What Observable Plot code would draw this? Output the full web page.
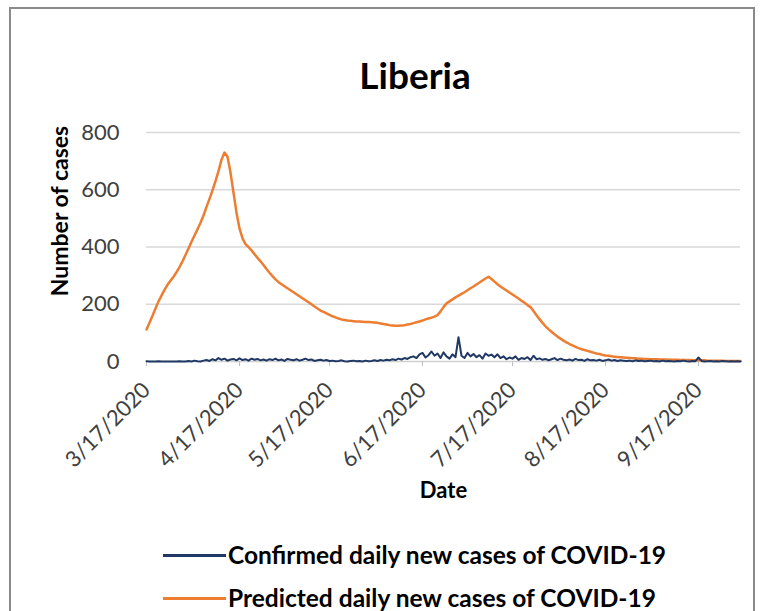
<!DOCTYPE html>
<html>
<head>
<meta charset="utf-8">
<script src="https://cdn.jsdelivr.net/npm/d3@7"></script>
<script src="https://cdn.jsdelivr.net/npm/@observablehq/plot@0.6"></script>
<style>
  html, body { margin: 0; padding: 0; background: #fff; }
  body { width: 768px; height: 611px; position: relative; overflow: hidden; font-family: Lato, "Open Sans", sans-serif; }
  #frame { position: absolute; left: 9px; top: 7px; width: 746px; height: 640px; border: 2px solid #8a8a8a; box-sizing: border-box; }
  #title { position: absolute; top: 56px; left: 0; width: 830px; text-align: center; font-weight: bold; font-size: 37px; line-height: 37px; color: #000; }
  #chart { position: absolute; left: 0; top: 100px; }
  .leg { position: absolute; left: 163px; height: 26px; font-weight: bold; font-size: 24.5px; line-height: 26px; color: #000; display: flex; align-items: center; white-space: nowrap; }
  .leg .sw { display: inline-block; width: 63px; height: 3px; margin-right: 2px; }
</style>
</head>
<body>
<div id="frame"></div>
<div id="title">Liberia</div>
<div id="chart"></div>
<div class="leg" style="top:542px"><span class="sw" style="background:#203864"></span>Confirmed daily new cases of COVID-19</div>
<div class="leg" style="top:585px"><span class="sw" style="background:#ed7d31"></span>Predicted daily new cases of COVID-19</div>
<script>
// Day 0 = 3/17/2020, last day = 10/1/2020
const startDate = "2020-03-17";
const tickLabels = ["3/17/2020","4/17/2020","5/17/2020","6/17/2020","7/17/2020","8/17/2020","9/17/2020"];
const yTicks = [0, 200, 400, 600, 800];

const confirmed = [
  1,0,0,0,1,0,0,0,0,0, 0,1,0,0,2,0,3,1,0,3,
  5,2,8,4,12,6,10,3,7,9, 4,11,5,8,3,10,6,9,4,7,
  3,8,5,10,4,7,2,9,6,4, 8,3,6,10,5,7,2,4,6,3,
  5,2,3,1,2,4,1,0,2,3, 1,2,0,3,1,2,4,2,5,3,
  6,4,8,5,10,7,12,9,15,18, 12,25,30,14,22,35,20,28,12,32,
  18,10,25,15,85,20,12,30,18,26, 15,22,10,28,20,24,15,25,12,18,
  8,14,10,18,6,12,9,15,5,20, 8,11,6,9,4,8,12,5,10,6,
  4,7,3,9,5,6,2,8,4,5, 3,6,2,4,7,3,5,2,4,3,
  2,3,1,4,2,3,1,2,3,1, 2,0,3,1,2,1,0,2,1,3,
  1,0,2,1,14,2,0,1,2,0, 1,0,2,1,0,1,0,1,0
];

const predicted = [
  112,135,160,185,210,230,250,268,282,296,
  312,330,350,372,395,418,440,462,485,510,
  540,568,598,630,665,705,730,715,660,590,
  520,465,430,410,400,388,375,362,350,337,
  323,310,298,287,277,270,263,256,249,242,
  235,228,221,214,207,200,192,185,178,173,
  168,163,158,154,150,147,145,143,142,141,
  140,140,139,138,138,137,136,135,133,131,
  129,127,126,125,125,126,127,129,131,134,
  137,140,143,147,150,153,157,162,175,190,
  203,210,217,224,230,236,242,249,256,262,
  269,276,283,290,296,288,279,270,262,255,
  248,241,234,227,220,212,205,197,190,176,
  162,148,135,123,113,104,95,87,80,73,
  67,61,56,51,47,43,40,37,34,31,
  28,26,23,21,20,18,17,16,15,14,
  13,12,11,11,10,10,9,9,8,8,
  8,7,7,7,6,6,6,6,5,5,
  5,5,4,4,4,4,4,3,3,3,
  3,3,3,2,2,2,2,2,2
];

const parseMDY = d3.utcParse("%m/%d/%Y");
const t0 = new Date(startDate + "T00:00:00Z");
const dayDate = i => d3.utcDay.offset(t0, i);
const confData = confirmed.map((v, i) => ({date: dayDate(i), value: v}));
const predData = predicted.map((v, i) => ({date: dayDate(i), value: v}));
const tickDates = tickLabels.map(parseMDY);
const fmt = d3.utcFormat("%-m/%-d/%Y");

const chart = Plot.plot({
  width: 768,
  height: 405,
  marginLeft: 146,
  marginRight: 28,
  marginTop: 32,
  marginBottom: 144,
  style: { fontFamily: "Lato, 'Open Sans', sans-serif", background: "transparent" },
  x: { type: "utc", domain: [t0, dayDate(predicted.length - 1)] },
  y: { domain: [0, 800] },
  marks: [
    Plot.gridY(yTicks.filter(d => d > 0), { stroke: "#d9d9d9", strokeOpacity: 1, strokeWidth: 1.5 }),
    Plot.ruleY([0], { stroke: "#d0d0d0", strokeWidth: 1.5 }),
    Plot.axisY({ ticks: yTicks, tickSize: 0, tickPadding: 27, label: null, fontSize: 22, fill: "#404040" }),
    Plot.axisX({ ticks: tickDates, tickFormat: fmt, tickRotate: -45, tickSize: 5, tickPadding: 20,
                 stroke: "#bfbfbf", fill: "#404040", label: null, fontSize: 22 }),
    Plot.text(["Date"], { frameAnchor: "bottom", dy: 136, fontWeight: "bold", fontSize: 22, fill: "#000" }),
    Plot.text(["Number of cases"], { frameAnchor: "left", textAnchor: "middle", rotate: -90, dx: -86, dy: -36, fontWeight: "bold", fontSize: 23, fill: "#000" }),
    Plot.lineY(predData, { x: "date", y: "value", stroke: "#ed7d31", strokeWidth: 2.5 }),
    Plot.lineY(confData, { x: "date", y: "value", stroke: "#203864", strokeWidth: 2 })
  ]
});
document.getElementById("chart").appendChild(chart);
</script>
</body>
</html>
